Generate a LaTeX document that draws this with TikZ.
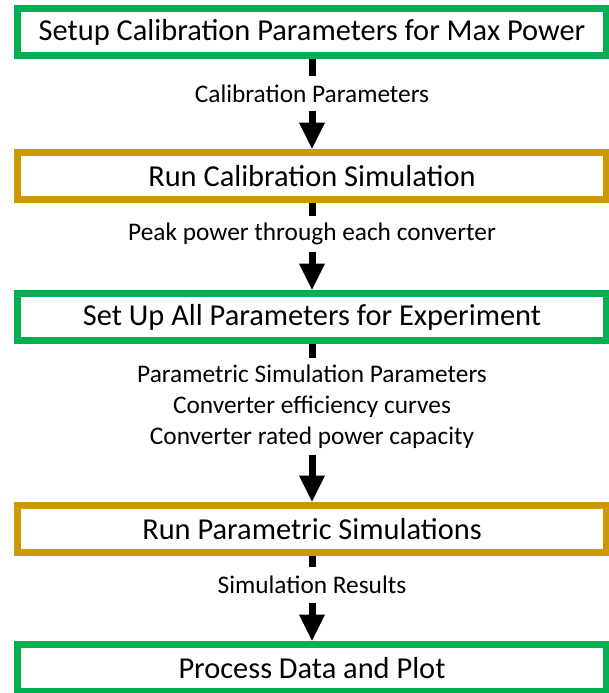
\documentclass[tikz,border=0pt]{standalone}
\usepackage{fontspec}
\setmainfont{Carlito}
\usetikzlibrary{arrows.meta}
\definecolor{boxgreen}{RGB}{0,176,80}
\definecolor{boxgold}{RGB}{204,153,0}

\begin{document}
\begin{tikzpicture}[x=0.75pt,y=0.75pt,yscale=-1,xscale=1,
  stage/.style={draw, line width=4.9pt, minimum width=441.75pt, minimum height=35.25pt, inner sep=0pt, font=\fontsize{22.8}{26}\selectfont},
  greenstage/.style={stage, draw=boxgreen},
  goldstage/.style={stage, draw=boxgold},
  flowlabel/.style={inner sep=0pt, minimum height=26.25pt, align=center, font=\fontsize{19}{23.25}\selectfont},
  flow/.style={line width=5.25pt},
  flowarrow/.style={flow, -{Triangle[width=18pt,length=20pt]}}]
\useasboundingbox (0,0) rectangle (609,693);

% Stages
\node [greenstage] (setup) at (312,32) {Setup Calibration Parameters for Max Power};
\node [goldstage] (calsim) at (312,176) {Run Calibration Simulation};
\node [greenstage] (expsetup) at (312,317) {Set Up All Parameters for Experiment};
\node [goldstage] (paramsim) at (312,529) {Run Parametric Simulations};
\node [greenstage] (plot) at (312,668) {Process Data and Plot};

% Labels
\node [flowlabel] (calparams) at (312,93.5) {Calibration Parameters};
\node [flowlabel] (peak) at (312,234) {Peak power through each converter};
\node [flowlabel, minimum height=72.75pt] (simparams) at (312,406.5) {Parametric Simulation Parameters\\Converter efficiency curves\\Converter rated power capacity};
\node [flowlabel] (results) at (312,585) {Simulation Results};

% Flow
\draw [flow] (setup.south) -- (calparams.north);
\draw [flowarrow] (calparams.south) -- (calsim.north);
\draw [flow] (calsim.south) -- (peak.north);
\draw [flowarrow] (peak.south) -- (expsetup.north);
\draw [flow] (expsetup.south) -- (simparams.north);
\draw [flowarrow] (simparams.south) -- (paramsim.north);
\draw [flow] (paramsim.south) -- (results.north);
\draw [flowarrow] (results.south) -- (plot.north);

\end{tikzpicture}
\end{document}
